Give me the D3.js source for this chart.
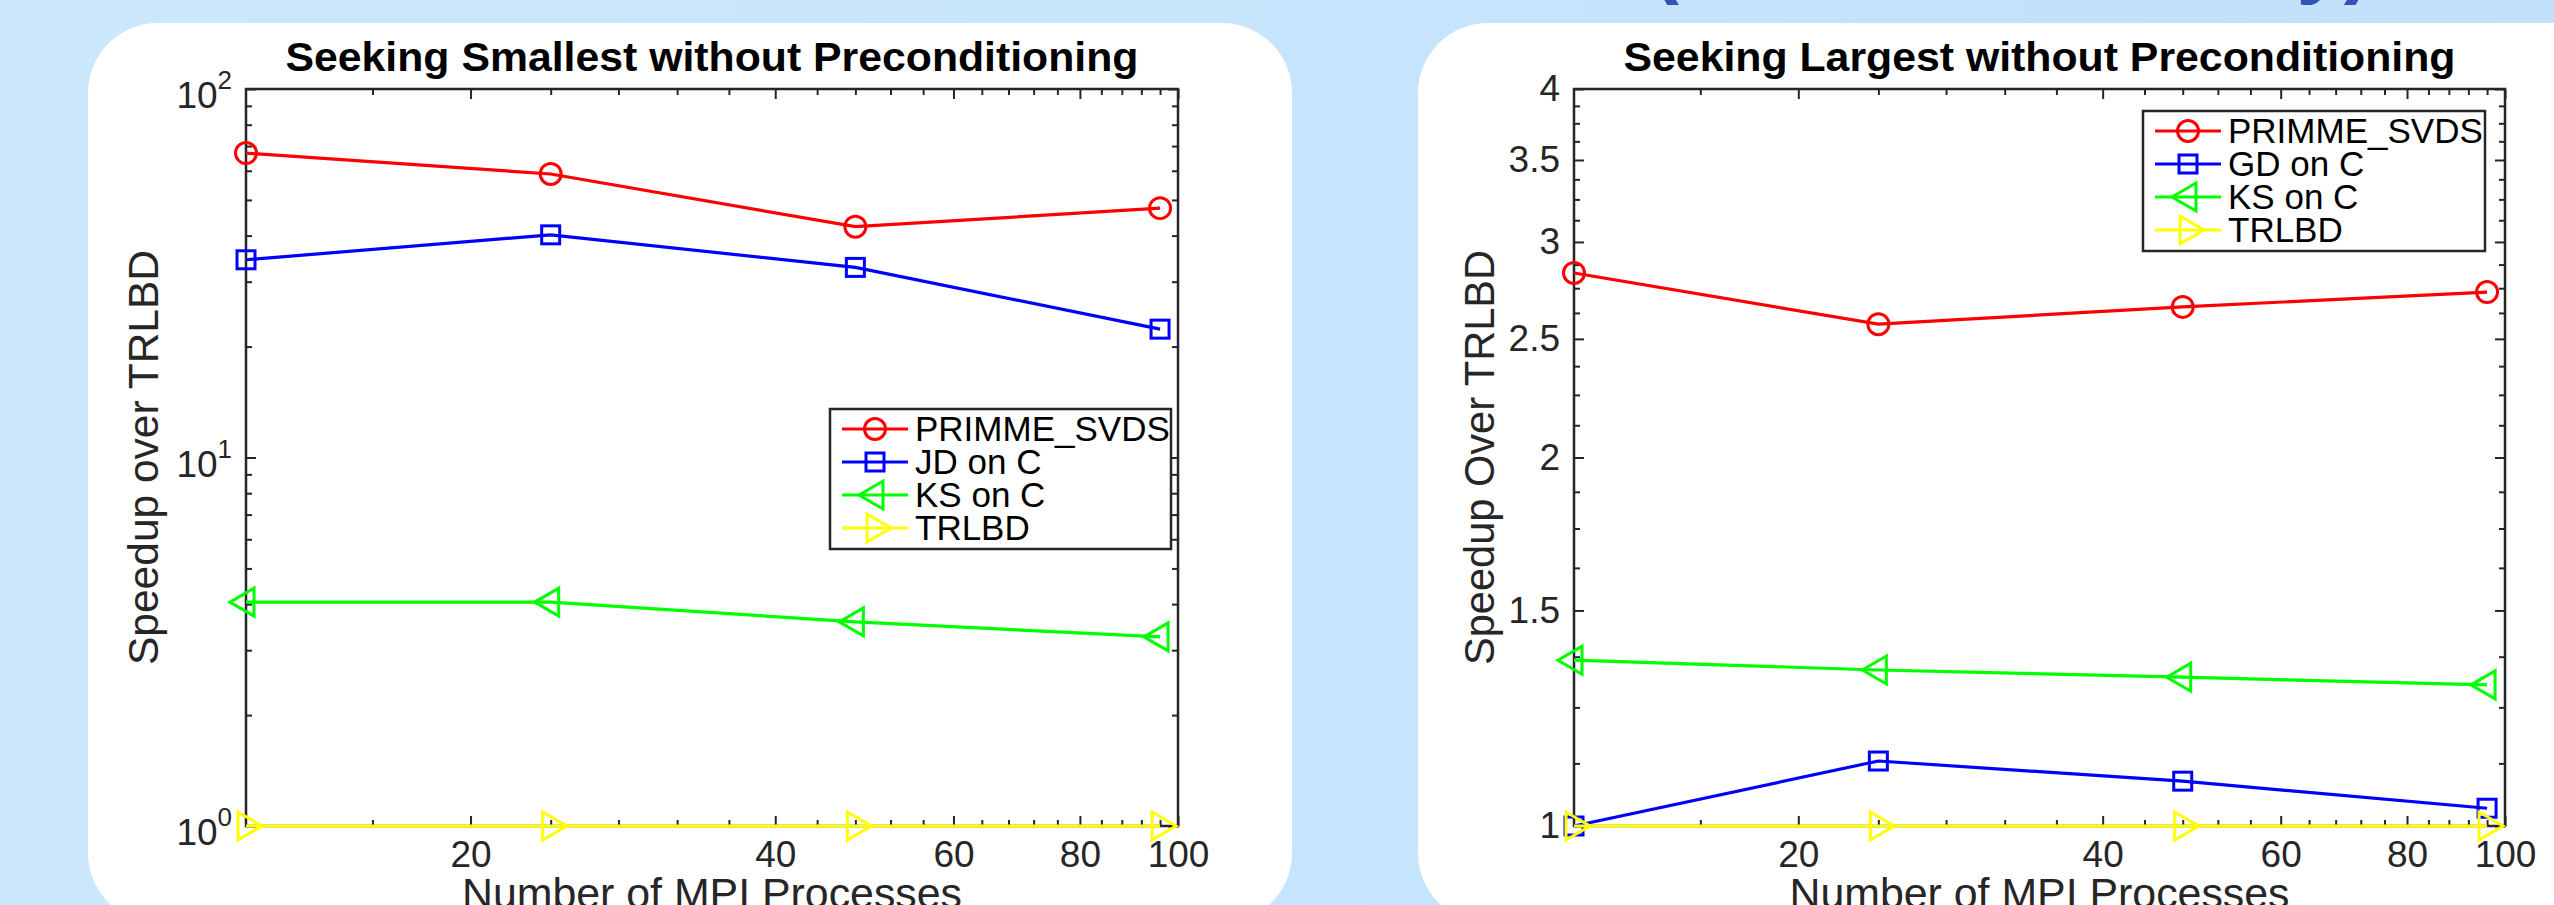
<!DOCTYPE html>
<html>
<head>
<meta charset="utf-8">
<script src="https://cdn.jsdelivr.net/npm/d3@7"></script>
<style>
  html, body { margin: 0; padding: 0; overflow: hidden; background: #c5e4fb; }
  svg { display: block; font-family: 'Liberation Sans', Arial, Helvetica, sans-serif; }
</style>
</head>
<body>
<svg id="chart" width="2554" height="905"></svg>
<script>
// number of MPI processes used in every run
const procs = [12, 24, 48, 96]
const xTickLabels = [20, 40, 60, 80, 100]

// seeking smallest, speedup over TRLBD (log axis)
const smallNames = ['PRIMME_SVDS', 'JD on C', 'KS on C', 'TRLBD']
const smallPrimme = [67.0, 58.8, 42.3, 47.5]
const smallJD = [34.4, 40.2, 32.8, 22.3]
const smallKS = [4.05, 4.05, 3.58, 3.26]
const smallTrlbd = [1, 1, 1, 1]
const smallYTicks = [1, 10, 100]

// seeking largest, speedup over TRLBD (log axis)
const largeNames = ['PRIMME_SVDS', 'GD on C', 'KS on C', 'TRLBD']
const largePrimme = [2.83, 2.57, 2.655, 2.73]
const largeGD = [1.0, 1.13, 1.088, 1.034]
const largeKS = [1.366, 1.341, 1.323, 1.304]
const largeTrlbd = [1, 1, 1, 1]
const largeYTicks = [1, 1.5, 2, 2.5, 3, 3.5, 4]

const colors = ['#ff0000', '#0000ff', '#00ff00', '#ffff00']
const shapes = ['circle', 'square', 'left', 'right']
const ink = '#262626'

const W = 2554
const H = 905
const yTop = 89
const yBottom = 826

const svg = d3.select('#chart')

const grad = svg.append('defs').append('linearGradient')
  .attr('id', 'bg')
grad.append('stop').attr('offset', '0%').attr('stop-color', '#cce8fc')
grad.append('stop').attr('offset', '100%').attr('stop-color', '#c1e1fa')

svg.append('rect')
  .attr('width', W)
  .attr('height', H)
  .attr('fill', 'url(#bg)')

// slide heading, almost entirely above the visible area
svg.append('text')
  .attr('x', 2372)
  .attr('y', -13)
  .attr('text-anchor', 'end')
  .style('font-size', '85px')
  .style('font-weight', 'bold')
  .attr('fill', '#3453b8')
  .text('Parallel Performance (Weak Scalability)')

// white rounded cards behind each plot
svg.selectAll('.card')
  .data([{ x: 88, w: 1204 }, { x: 1418, w: 1300 }])
  .enter().append('rect')
  .attr('class', 'card')
  .attr('x', d => d.x)
  .attr('y', 23)
  .attr('width', d => d.w)
  .attr('height', 900)
  .attr('rx', 70)
  .attr('fill', '#fff')

const charts = [
  {
    title: 'Seeking Smallest without Preconditioning',
    titleLen: 853,
    ylabel: 'Speedup over TRLBD',
    left: 246,
    right: 1178,
    yDomain: [1, 100],
    yTicks: smallYTicks,
    yMinor: d3.range(2, 10).concat(d3.range(20, 100, 10)),
    power: true,
    labelX: 158,
    names: smallNames,
    values: [smallPrimme, smallJD, smallKS, smallTrlbd],
    legend: { x: 830, y: 409, w: 341 }
  },
  {
    title: 'Seeking Largest without Preconditioning',
    titleLen: 832,
    ylabel: 'Speedup Over TRLBD',
    left: 1574,
    right: 2505,
    yDomain: [1, 4],
    yTicks: largeYTicks,
    yMinor: d3.range(1, 4.001, 0.125).filter(v => v % 0.5 !== 0),
    power: false,
    labelX: 1494,
    names: largeNames,
    values: [largePrimme, largeGD, largeKS, largeTrlbd],
    legend: { x: 2143, y: 111, w: 342 }
  }
]

function marker (sel, shape, color) {
  if (shape === 'circle') {
    sel.append('circle').attr('r', 10.5)
  } else if (shape === 'square') {
    sel.append('rect').attr('x', -9).attr('y', -9).attr('width', 18).attr('height', 18)
  } else if (shape === 'left') {
    sel.append('path').attr('d', 'M-16,0L8,-14L8,14Z')
  } else {
    sel.append('path').attr('d', 'M16,0L-8,-14L-8,14Z')
  }
  sel.attr('fill', 'none')
    .attr('stroke', color)
    .attr('stroke-width', 3)
}

function styleAxis (g) {
  g.select('.domain').remove()
  g.selectAll('.tick text').filter(function () { return !this.textContent }).remove()
  g.selectAll('.tick line').attr('stroke', ink).attr('stroke-width', 2)
  g.selectAll('.tick text')
    .attr('fill', ink)
    .style('font-size', '37px')
    .style('font-family', "'Liberation Sans', Arial, sans-serif")
}

charts.forEach(c => {
  const x = d3.scaleLog().domain([12, 100]).range([c.left, c.right])
  const y = d3.scaleLog().domain(c.yDomain).range([yBottom, yTop])
  const xMinor = d3.range(16, 101, 4).filter(v => !xTickLabels.includes(v))
  const g = svg.append('g')

  // x axis, ticks pointing inwards and mirrored on top
  g.append('g')
    .attr('transform', `translate(0,${yBottom})`)
    .call(d3.axisBottom(x).tickValues(xTickLabels).tickSize(-10).tickSizeOuter(0)
      .tickPadding(15).tickFormat(d3.format('d')))
    .call(styleAxis)
  g.append('g')
    .attr('transform', `translate(0,${yBottom})`)
    .call(d3.axisBottom(x).tickValues(xMinor).tickSize(-6).tickSizeOuter(0).tickFormat(''))
    .call(styleAxis)
  g.append('g')
    .attr('transform', `translate(0,${yTop})`)
    .call(d3.axisTop(x).tickValues(xTickLabels).tickSize(-10).tickSizeOuter(0).tickFormat(''))
    .call(styleAxis)
  g.append('g')
    .attr('transform', `translate(0,${yTop})`)
    .call(d3.axisTop(x).tickValues(xMinor).tickSize(-6).tickSizeOuter(0).tickFormat(''))
    .call(styleAxis)

  // y axis, left and right
  const yLeft = d3.axisLeft(y).tickValues(c.yTicks).tickSize(-10).tickSizeOuter(0).tickPadding(14)
  yLeft.tickFormat(c.power ? '' : d3.format('~g'))
  g.append('g')
    .attr('transform', `translate(${c.left},0)`)
    .call(yLeft)
    .call(styleAxis)
  g.append('g')
    .attr('transform', `translate(${c.left},0)`)
    .call(d3.axisLeft(y).tickValues(c.yMinor).tickSize(-6).tickSizeOuter(0).tickFormat(''))
    .call(styleAxis)
  g.append('g')
    .attr('transform', `translate(${c.right},0)`)
    .call(d3.axisRight(y).tickValues(c.yTicks).tickSize(-10).tickSizeOuter(0).tickFormat(''))
    .call(styleAxis)
  g.append('g')
    .attr('transform', `translate(${c.right},0)`)
    .call(d3.axisRight(y).tickValues(c.yMinor).tickSize(-6).tickSizeOuter(0).tickFormat(''))
    .call(styleAxis)

  if (c.power) {
    const lab = g.append('g').selectAll('text')
      .data(c.yTicks)
      .enter().append('text')
      .attr('x', c.left - 14)
      .attr('y', d => y(d) + 19)
      .attr('text-anchor', 'end')
      .attr('fill', ink)
      .style('font-size', '37px')
    lab.append('tspan').text('10')
    lab.append('tspan')
      .attr('dy', -19)
      .style('font-size', '26px')
      .text(d => Math.round(Math.log10(d)))
  }

  // axes box
  g.append('rect')
    .attr('x', c.left)
    .attr('y', yTop)
    .attr('width', c.right - c.left)
    .attr('height', yBottom - yTop)
    .attr('fill', 'none')
    .attr('stroke', ink)
    .attr('stroke-width', 2.5)

  // title and labels
  g.append('text')
    .attr('x', (c.left + c.right) / 2)
    .attr('y', 71)
    .attr('text-anchor', 'middle')
    .attr('textLength', c.titleLen)
    .attr('lengthAdjust', 'spacingAndGlyphs')
    .style('font-size', '41px')
    .style('font-weight', 'bold')
    .attr('fill', '#000')
    .text(c.title)

  g.append('text')
    .attr('x', (c.left + c.right) / 2)
    .attr('y', 908)
    .attr('text-anchor', 'middle')
    .attr('textLength', 500)
    .attr('lengthAdjust', 'spacingAndGlyphs')
    .style('font-size', '42px')
    .attr('fill', ink)
    .text('Number of MPI Processes')

  g.append('text')
    .attr('transform', `translate(${c.labelX},${(yTop + yBottom) / 2}) rotate(-90)`)
    .attr('text-anchor', 'middle')
    .attr('textLength', 415)
    .attr('lengthAdjust', 'spacingAndGlyphs')
    .style('font-size', '43px')
    .attr('fill', ink)
    .text(c.ylabel)

  // series
  const line = d3.line()
    .x((d, i) => x(procs[i]))
    .y(d => y(d))

  c.values.forEach((vals, k) => {
    g.append('path')
      .datum(vals)
      .attr('d', line)
      .attr('fill', 'none')
      .attr('stroke', colors[k])
      .attr('stroke-width', 3.2)
    g.append('g').selectAll('g')
      .data(vals)
      .enter().append('g')
      .attr('transform', (d, i) => `translate(${x(procs[i])},${y(d)})`)
      .each(function () { marker(d3.select(this), shapes[k], colors[k]) })
  })

  // legend
  const lg = g.append('g').attr('transform', `translate(${c.legend.x},${c.legend.y})`)
  lg.append('rect')
    .attr('width', c.legend.w)
    .attr('height', 140)
    .attr('fill', '#fff')
    .attr('stroke', ink)
    .attr('stroke-width', 2.5)
  const row = lg.selectAll('.row')
    .data(c.names)
    .enter().append('g')
    .attr('class', 'row')
    .attr('transform', (d, i) => `translate(0,${20 + i * 33})`)
  row.append('line')
    .attr('x1', 12).attr('x2', 78)
    .attr('stroke', (d, i) => colors[i])
    .attr('stroke-width', 3.2)
  row.append('g')
    .attr('transform', 'translate(45,0)')
    .each(function (d, i) { marker(d3.select(this), shapes[i], colors[i]) })
  row.append('text')
    .attr('x', 85)
    .attr('dy', '0.35em')
    .style('font-size', '35px')
    .attr('fill', '#000')
    .text(d => d)
})
</script>
</body>
</html>
